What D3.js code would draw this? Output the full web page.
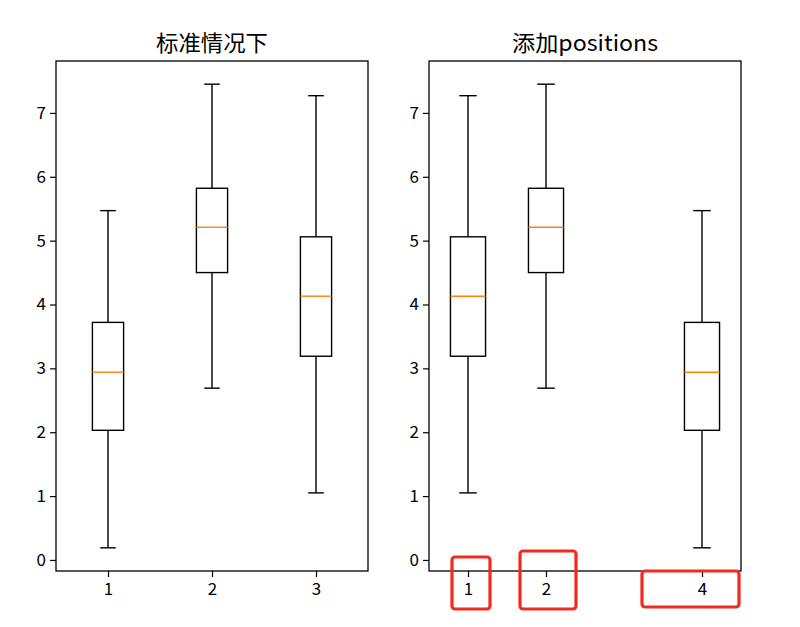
<!DOCTYPE html>
<html><head><meta charset="utf-8">
<script src="https://cdn.jsdelivr.net/npm/d3@7"></script>
<style>body{margin:0;background:#fff}</style>
</head><body>
<script>
// ---- data ----
const stats1 = {low: 0.19, q1: 2.03, med: 2.94, q3: 3.72, high: 5.47};
const stats2 = {low: 2.69, q1: 4.50, med: 5.21, q3: 5.82, high: 7.45};
const stats3 = {low: 1.05, q1: 3.19, med: 4.13, q3: 5.06, high: 7.27};
const leftData = [stats1, stats2, stats3];
const leftPositions = [1, 2, 3];
const rightData = [stats3, stats2, stats1];
const rightPositions = [1, 2, 4];
const yTicks = [0, 1, 2, 3, 4, 5, 6, 7];
const titles = ["标准情况下", "添加positions"];

const W = 800, H = 627;
const svg = d3.select("body").append("svg").attr("width", W).attr("height", H)
  .style("font-family", "'Noto Sans CJK SC', sans-serif");

const allVals = leftData.flatMap(d => [d.low, d.high]);
const ymin = d3.min(allVals), ymax = d3.max(allVals), pad = (ymax - ymin) * 0.05;

const plotTop = 61, plotBottom = 571;
const y = d3.scaleLinear().domain([ymin - pad, ymax + pad]).range([plotBottom, plotTop]);

function panel(x0, x1, data, positions, title, annotate) {
  const span = d3.max(positions) - d3.min(positions);
  const w = Math.min(0.15 * Math.max(span, 1), 0.5);
  const x = d3.scaleLinear().domain([d3.min(positions) - 0.5, d3.max(positions) + 0.5]).range([x0, x1]);
  const g = svg.append("g");
  const line = (a, b, c, e, col) => g.append("line").attr("x1", a).attr("y1", b).attr("x2", c).attr("y2", e)
    .attr("stroke", col || "#000").attr("stroke-width", 1.4);
  data.forEach((d, i) => {
    const p = positions[i];
    const cx = x(p), bl = x(p - w / 2), br = x(p + w / 2);
    const cl = x(p - w / 4), cr = x(p + w / 4);
    line(cx, y(d.q3), cx, y(d.high));
    line(cx, y(d.q1), cx, y(d.low));
    line(cl, y(d.high), cr, y(d.high));
    line(cl, y(d.low), cr, y(d.low));
    g.append("rect").attr("x", bl).attr("y", y(d.q3)).attr("width", br - bl).attr("height", y(d.q1) - y(d.q3))
      .attr("fill", "none").attr("stroke", "#000").attr("stroke-width", 1.4);
    line(bl, y(d.med), br, y(d.med), "#ff7f0e");
  });
  // axes
  const ya = g.append("g").attr("transform", `translate(${x0},0)`)
    .call(d3.axisLeft(y).tickValues(yTicks).tickSize(6).tickPadding(4).tickFormat(d3.format("d")));
  const xa = g.append("g").attr("transform", `translate(0,${plotBottom})`)
    .call(d3.axisBottom(x).tickValues(positions).tickSize(6).tickPadding(6).tickFormat(d3.format("d")));
  [ya, xa].forEach(a => {
    a.select(".domain").remove();
    a.selectAll("text").attr("font-size", 17).attr("font-family", "'Noto Sans CJK SC', sans-serif").attr("fill", "#000");
    a.selectAll("line").attr("stroke", "#000").attr("stroke-width", 1.2);
  });
  // spines
  g.append("rect").attr("x", x0).attr("y", plotTop).attr("width", x1 - x0).attr("height", plotBottom - plotTop)
    .attr("fill", "none").attr("stroke", "#000").attr("stroke-width", 1.3);
  const tt = g.append("text").attr("x", (x0 + x1) / 2).attr("y", 51).attr("text-anchor", "middle")
    .attr("font-size", 22).text(title);
  if (annotate) {
    tt.attr("textLength", 146).attr("lengthAdjust", "spacingAndGlyphs");
    const boxes = [
      {p: positions[0], dx0: -16, dx1: 22, y0: -14, y1: 38},
      {p: positions[1], dx0: -26, dx1: 30, y0: -20, y1: 38},
      {p: positions[2], dx0: -60, dx1: 37, y0: 0, y1: 36}
    ];
    boxes.forEach(b => {
      g.append("rect").attr("x", x(b.p) + b.dx0).attr("y", plotBottom + b.y0)
        .attr("width", b.dx1 - b.dx0).attr("height", b.y1 - b.y0).attr("rx", 3)
        .attr("fill", "none").attr("stroke", "#f02a1e").attr("stroke-width", 3.2);
    });
  } else {
    tt.attr("textLength", 112).attr("lengthAdjust", "spacingAndGlyphs");
  }
}

panel(56, 368, leftData, leftPositions, titles[0], false);
panel(429, 741, rightData, rightPositions, titles[1], true);
</script>
</body></html>
